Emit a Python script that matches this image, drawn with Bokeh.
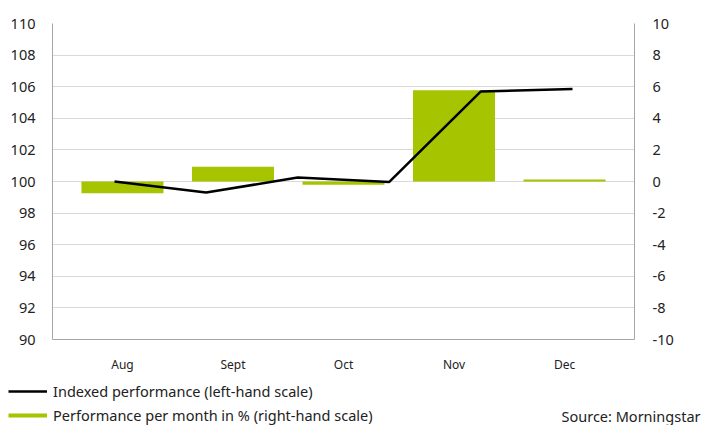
from bokeh.plotting import figure
from bokeh.layouts import column, row
from bokeh.models import (Range1d, LinearAxis, FixedTicker, Legend, LegendItem,
                          Label, ColumnDataSource)
from bokeh.embed import file_html
from bokeh.resources import INLINE

# ---- data ----
months = ["Aug", "Sept", "Oct", "Nov", "Dec"]
monthly_pct = [-0.75, 0.93, -0.2, 5.78, 0.12]
index_points = ["Start", "Aug", "Sept", "Oct", "Nov", "Dec"]
indexed_perf = [100.0, 99.3, 100.25, 99.97, 105.7, 105.85]
left_ticks = [90, 92, 94, 96, 98, 100, 102, 104, 106, 108, 110]
right_ticks = [-10, -8, -6, -4, -2, 0, 2, 4, 6, 8, 10]
legend_labels = ["Indexed performance (left-hand scale)",
                 "Performance per month in % (right-hand scale)"]
source_text = "Source: Morningstar"

FONT = "Noto Sans"
GREEN = "#A6C400"
AXIS_GRAY = "#a6a6a6"
GRID_GRAY = "#d9d9d9"
TXT = "#222222"

p = figure(width=702, height=375, output_backend="svg", toolbar_location=None,
           x_range=Range1d(-0.633, 4.633), y_range=Range1d(90, 110),
           min_border_left=52, min_border_right=68, min_border_top=23,
           min_border_bottom=30)
p.outline_line_color = None
p.extra_y_ranges = {"pct": Range1d(-10, 10)}
p.extra_x_ranges = {"line": Range1d(-0.677, 5.677)}

bar_src = ColumnDataSource(dict(x=list(range(len(months))), pct=monthly_pct))
line_src = ColumnDataSource(dict(x=list(range(len(index_points))), v=indexed_perf))

p.vbar(x="x", top="pct", bottom=0, width=0.742, source=bar_src,
       y_range_name="pct", fill_color=GREEN, line_color=None)
p.line(x="x", y="v", source=line_src, x_range_name="line",
       line_color="black", line_width=2.5)

# axes
xa = p.xaxis[0]
xa.ticker = FixedTicker(ticks=list(range(len(months))))
xa.major_label_overrides = {i: m for i, m in enumerate(months)}
xa.axis_line_color = AXIS_GRAY
xa.major_tick_line_color = None
xa.minor_tick_line_color = None
xa.major_label_standoff = 10
xa.major_label_text_font = FONT
xa.major_label_text_font_size = "12px"
xa.major_label_text_color = TXT

ya = p.yaxis[0]
ya.ticker = FixedTicker(ticks=left_ticks)
ya.axis_line_color = AXIS_GRAY
ya.major_tick_line_color = None
ya.minor_tick_line_color = None
ya.major_label_standoff = 11
ya.major_label_text_font = FONT
ya.major_label_text_font_size = "14.5px"
ya.major_label_text_color = TXT

ra = LinearAxis(y_range_name="pct", ticker=FixedTicker(ticks=right_ticks))
ra.major_label_overrides = {t: str(t) for t in right_ticks}
ra.axis_line_color = AXIS_GRAY
ra.major_tick_line_color = None
ra.minor_tick_line_color = None
ra.major_label_standoff = 12
ra.major_label_text_font = FONT
ra.major_label_text_font_size = "14.5px"
ra.major_label_text_color = TXT
p.add_layout(ra, "right")

p.xgrid.grid_line_color = None
p.ygrid.grid_line_color = GRID_GRAY
p.ygrid.ticker = FixedTicker(ticks=left_ticks)

# ---- legend strip ----
q = figure(width=702, height=50, output_backend="svg", toolbar_location=None,
           x_range=Range1d(0, 1), y_range=Range1d(0, 1),
           x_axis_location=None, y_axis_location=None,
           min_border_left=0, min_border_right=0, min_border_top=0,
           min_border_bottom=0)
q.grid.visible = False
q.outline_line_color = None
leg_line = q.line(x="x", y="v", source=line_src, line_color="black",
                  line_width=2.5, visible=False)
leg_bar = q.line(x="x", y="pct", source=bar_src, line_color=GREEN,
                 line_width=4, visible=False)

legend = Legend(items=[
    LegendItem(label=legend_labels[0], renderers=[leg_line]),
    LegendItem(label=legend_labels[1], renderers=[leg_bar]),
], location=(8, 0), padding=0, margin=0, border_line_color=None,
    background_fill_alpha=0, glyph_width=39, glyph_height=20, label_height=20,
    spacing=4, label_standoff=6, label_text_font=FONT,
    label_text_font_size="14.5px", label_text_color=TXT,
    inactive_fill_alpha=0)
q.add_layout(legend)

q.add_layout(Label(x=700, y=10, x_units="screen", y_units="screen",
                   text=source_text, text_align="right",
                   text_baseline="middle", text_font=FONT,
                   text_font_size="14.5px", text_color=TXT))

open("out.html", "w").write(file_html(column(p, row(q), spacing=0), INLINE))
